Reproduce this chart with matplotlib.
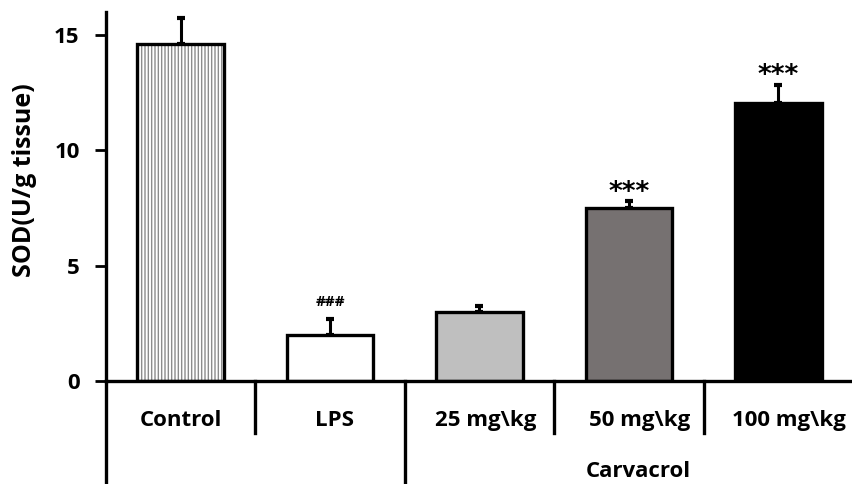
import numpy as np
import matplotlib.pyplot as plt

# Data
groups = ['Control', 'LPS', '25 mg\\kg', '50 mg\\kg', '100 mg\\kg']
sod = [14.6, 2.0, 3.0, 7.5, 12.05]
err = [1.15, 0.7, 0.25, 0.3, 0.8]
marks = ['', '###', '', '***', '***']
colors = ['white', 'white', '#bfbfbf', '#767171', 'black']
group_name = 'Carvacrol'

plt.rcParams['font.family'] = ['Open Sans', 'DejaVu Sans']
plt.rcParams['font.weight'] = 'bold'

fig = plt.figure(figsize=(8.53, 4.84), dpi=100)
ax = fig.add_axes([106 / 853, 103 / 484, 1 - 106 / 853, 369 / 484])

x = np.arange(len(groups))
w = 0.58

# hatched control bar
ax.bar(x[0], sod[0], w, color='white', edgecolor='#8c8c8c', hatch='|||||', lw=0, zorder=2)
ax.bar(x[1:], sod[1:], w, color=colors[1:], lw=0, zorder=2)
ax.bar(x, sod, w, fill=False, edgecolor='black', lw=2.4, zorder=3)

ax.errorbar(x, sod, yerr=[np.zeros(len(err)), err], fmt='none', ecolor='black',
            elinewidth=2.2, capsize=3, capthick=3, zorder=1)

for xi, v, e, m in zip(x, sod, err, marks):
    if m == '###':
        ax.text(xi, v + e + 0.56, m, ha='center', va='baseline', fontsize=11, fontweight='bold')
    elif m:
        ax.text(xi, v + e + 0.05, m, ha='center', va='baseline', fontsize=19,
                fontweight='bold', family='DejaVu Sans')

ax.set_xlim(-0.5, 4.5)
ax.set_ylim(0, 16)
ax.set_yticks([0, 5, 10, 15])
ax.set_xticks([])
ax.tick_params(axis='y', direction='out', length=8, width=2, labelsize=16, pad=11)
for lab in ax.get_yticklabels():
    lab.set_fontweight('bold')

for s in ['top', 'right']:
    ax.spines[s].set_visible(False)
ax.spines['left'].set_linewidth(2.4)
ax.spines['bottom'].set_linewidth(2.4)
ax.set_ylabel('SOD(U/g tissue)', fontsize=18, fontweight='bold')
ax.yaxis.set_label_coords(-0.092, 0.545)

# category labels and separators under the axis
trans = ax.get_xaxis_transform()
shift = [0, 0.03, 0.04, 0.07, 0.07]
for xi, g, sh in zip(x, groups, shift):
    ax.text(xi + sh, -0.122, g, transform=trans, ha='center', va='baseline',
            fontsize=16, fontweight='bold')
ax.text(3.06, -0.26, group_name, transform=trans, ha='center', va='baseline',
        fontsize=16, fontweight='bold')

for b, long in [(-0.5, True), (0.5, False), (1.5, True), (2.5, False), (3.5, False)]:
    ax.plot([b, b], [0, -0.3 if long else -0.141], color='black', lw=2.4,
            transform=trans, clip_on=False)

fig.savefig('out.png', dpi=100)
